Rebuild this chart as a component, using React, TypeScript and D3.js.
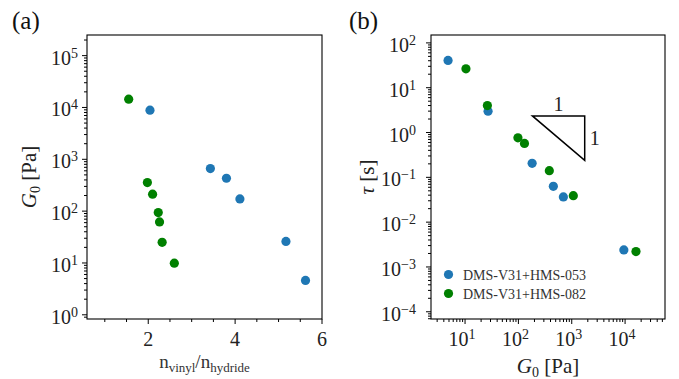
import * as d3 from "d3";

// panel (a): G0 vs n_vinyl/n_hydride
const ratioBlue = [2.04, 3.43, 3.8, 4.11, 5.17, 5.62];
const g0Blue = [8870, 662, 431, 172, 26, 4.6];
const ratioGreen = [1.55, 1.98, 2.1, 2.23, 2.26, 2.32, 2.6];
const g0Green = [14450, 356, 212, 94, 62, 25, 9.9];

// panel (b): tau vs G0
const gBlue = [4.8, 27, 181, 452, 697, 9480];
const tauBlue = [40.6, 3.0, 0.205, 0.063, 0.0366, 0.0024];
const gGreen = [10.4, 26.2, 98, 130, 380, 1070, 16000];
const tauGreen = [26.4, 4.0, 0.76, 0.57, 0.141, 0.039, 0.0022];

// slope triangle corners (data units)
const triG = [183, 1750];
const triTau = [2.35, 0.24];

const seriesNames = ["DMS-V31+HMS-053", "DMS-V31+HMS-082"];
const seriesColors = ["#1f77b4", "#008000"];
const ratioTicks = [2, 4, 6];

const FONT = "'Liberation Serif', 'DejaVu Serif', serif";
const R = 4.6;

function Pow10({ x, y, k, anchor }: { x: number; y: number; k: number; anchor: string }) {
  const exp = k < 0 ? "\u2212" + Math.abs(k) : String(k);
  return (
    <text x={x} y={y} textAnchor={anchor} fontSize={20} fontFamily={FONT} fill="#222">
      10
      <tspan dy={-7} fontSize={14}>
        {exp}
      </tspan>
    </text>
  );
}

function isPow10(v: number) {
  const l = Math.log10(v);
  return Math.abs(l - Math.round(l)) < 1e-6;
}

export default function App() {
  // layout of panel (a)
  const a = { left: 87, right: 322, top: 35, bottom: 319 };
  const b = { left: 431, right: 665, top: 35, bottom: 319 };

  const xA = d3.scaleLinear().domain([0.59, 6]).range([a.left, a.right]);
  const yA = d3.scaleLog().domain([0.83, 2.5e5]).range([a.bottom, a.top]);
  const xB = d3.scaleLog().domain([2.3, 5.6e4]).range([b.left, b.right]);
  const yB = d3.scaleLog().domain([6.9e-5, 150]).range([b.bottom, b.top]);

  const xAMinor = d3.range(1, 6.01, 0.5);
  const yATicks = yA.ticks();
  const xBTicks = xB.ticks();
  const yBTicks = yB.ticks();

  const stroke = "#000";

  const tri = [
    [xB(triG[0]), yB(triTau[0])],
    [xB(triG[1]), yB(triTau[0])],
    [xB(triG[1]), yB(triTau[1])],
  ] as [number, number][];

  return (
    <svg
      width={679}
      height={379}
      style={{ position: "absolute", left: 0, top: 0, background: "#fff" }}
      fontFamily={FONT}
    >
      <rect width={679} height={379} fill="#fff" />

      {/* ---------- panel (a) ---------- */}
      <text x={12} y={29} fontSize={25} fill="#111">(a)</text>
      {xAMinor.map((v) => {
        const major = ratioTicks.includes(v);
        return (
          <line key={"xa" + v} x1={xA(v)} x2={xA(v)} y1={a.bottom} y2={a.bottom + (major ? 5 : 3)} stroke={stroke} strokeWidth={1} />
        );
      })}
      {ratioTicks.map((v) => (
        <text key={"xal" + v} x={xA(v)} y={346} textAnchor="middle" fontSize={20} fill="#222">
          {v}
        </text>
      ))}
      {yATicks.map((v, i) => {
        const major = isPow10(v);
        return (
          <line key={"ya" + i} x1={a.left} x2={a.left - (major ? 5 : 3)} y1={yA(v)} y2={yA(v)} stroke={stroke} strokeWidth={1} />
        );
      })}
      {yATicks.filter(isPow10).map((v) => (
        <Pow10 key={"yal" + v} x={78} y={yA(v) + 9} k={Math.round(Math.log10(v))} anchor="end" />
      ))}
      {ratioBlue.map((v, i) => (
        <circle key={"ab" + i} cx={xA(v)} cy={yA(g0Blue[i])} r={R} fill={seriesColors[0]} />
      ))}
      {ratioGreen.map((v, i) => (
        <circle key={"ag" + i} cx={xA(v)} cy={yA(g0Green[i])} r={R} fill={seriesColors[1]} />
      ))}
      <rect x={a.left} y={a.top} width={a.right - a.left} height={a.bottom - a.top} fill="none" stroke={stroke} strokeWidth={1.1} />
      <text x={(a.left + a.right) / 2} y={367.5} textAnchor="middle" fontSize={19} fill="#333">
        n<tspan dy={4} fontSize={13}>vinyl</tspan>
        <tspan dy={-4}>/n</tspan>
        <tspan dy={4} fontSize={13}>hydride</tspan>
      </text>
      <text
        transform={`translate(36, ${(a.top + a.bottom) / 2}) rotate(-90)`}
        textAnchor="middle"
        fontSize={21}
        fill="#222"
      >
        <tspan fontStyle="italic">G</tspan>
        <tspan dy={4} fontSize={14}>0</tspan>
        <tspan dy={-4}> [Pa]</tspan>
      </text>

      {/* ---------- panel (b) ---------- */}
      <text x={349} y={29} fontSize={25} fill="#111">(b)</text>
      {xBTicks.map((v, i) => {
        const major = isPow10(v);
        return (
          <line key={"xb" + i} x1={xB(v)} x2={xB(v)} y1={b.bottom} y2={b.bottom + (major ? 5 : 3)} stroke={stroke} strokeWidth={1} />
        );
      })}
      {xBTicks.filter(isPow10).map((v) => (
        <Pow10 key={"xbl" + v} x={xB(v) - 3} y={346} k={Math.round(Math.log10(v))} anchor="middle" />
      ))}
      {yBTicks.map((v, i) => {
        const major = isPow10(v);
        return (
          <line key={"yb" + i} x1={b.left} x2={b.left - (major ? 5 : 3)} y1={yB(v)} y2={yB(v)} stroke={stroke} strokeWidth={1} />
        );
      })}
      {yBTicks.filter(isPow10).map((v) => (
        <Pow10 key={"ybl" + v} x={416} y={yB(v) + 9} k={Math.round(Math.log10(v))} anchor="end" />
      ))}
      {gBlue.map((v, i) => (
        <circle key={"bb" + i} cx={xB(v)} cy={yB(tauBlue[i])} r={R} fill={seriesColors[0]} />
      ))}
      {gGreen.map((v, i) => (
        <circle key={"bg" + i} cx={xB(v)} cy={yB(tauGreen[i])} r={R} fill={seriesColors[1]} />
      ))}
      <path d={d3.line()(tri) + "Z"} fill="none" stroke="#000" strokeWidth={1.5} strokeLinejoin="miter" />
      <text x={(tri[0][0] + tri[1][0]) / 2} y={tri[0][1] - 5} textAnchor="middle" fontSize={20} fill="#222">1</text>
      <text x={tri[1][0] + 5} y={(tri[1][1] + tri[2][1]) / 2 + 7} fontSize={20} fill="#222">1</text>

      {seriesNames.map((name, i) => (
        <g key={name}>
          <circle cx={448.5} cy={274.5 + i * 19} r={R} fill={seriesColors[i]} />
          <text x={463} y={279.5 + i * 19} fontSize={14} fill="#333">{name}</text>
        </g>
      ))}

      <rect x={b.left} y={b.top} width={b.right - b.left} height={b.bottom - b.top} fill="none" stroke={stroke} strokeWidth={1.1} />
      <text x={(b.left + b.right) / 2} y={373} textAnchor="middle" fontSize={21} fill="#222">
        <tspan fontStyle="italic">G</tspan>
        <tspan dy={4} fontSize={14}>0</tspan>
        <tspan dy={-4}> [Pa]</tspan>
      </text>
      <text
        transform={`translate(374, ${(b.top + b.bottom) / 2}) rotate(-90)`}
        textAnchor="middle"
        fontSize={21}
        fill="#222"
      >
        <tspan fontStyle="italic">τ</tspan>
        <tspan> [s]</tspan>
      </text>
    </svg>
  );
}
